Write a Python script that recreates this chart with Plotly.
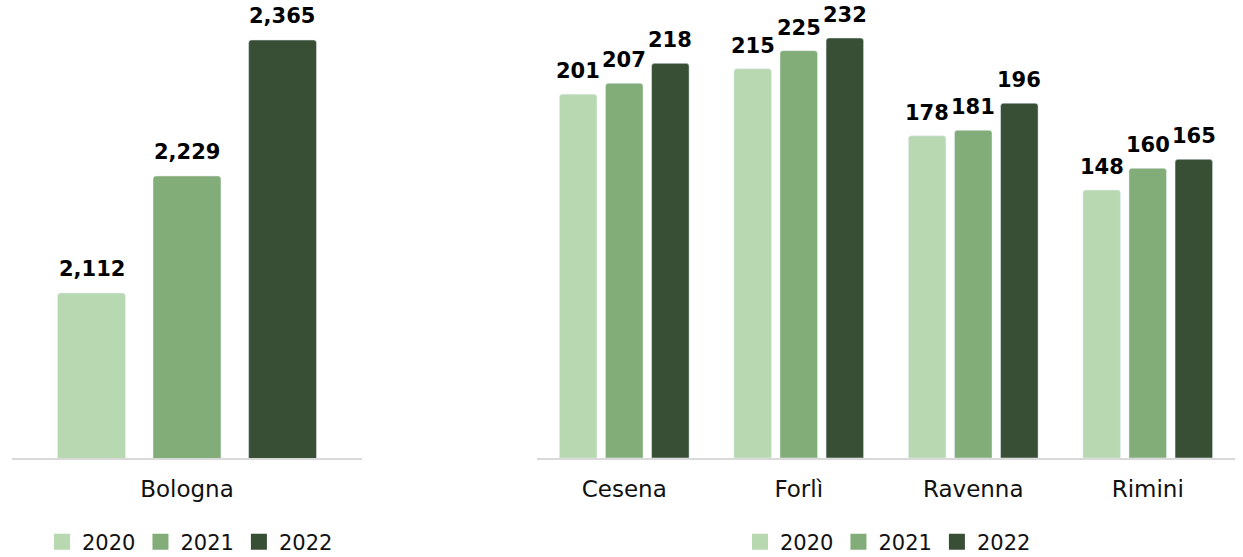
import plotly.graph_objects as go

years = ["2020", "2021", "2022"]
colors = ["#b8d8b1", "#82ac78", "#384f35"]

left_cats = ["Bologna"]
left_vals = {"2020": [2112], "2021": [2229], "2022": [2365]}

right_cats = ["Cesena", "Forlì", "Ravenna", "Rimini"]
right_vals = {"2020": [201, 215, 178, 148],
              "2021": [207, 225, 181, 160],
              "2022": [218, 232, 196, 165]}

W, H = 1243, 557
FONT = "DejaVu Sans"

fig = go.Figure()

l_width = 0.194
l_offsets = [-0.370, -0.097, 0.176]
l_shift_px = [-95, 0, 95]
r_width = 0.215
r_offsets = [-0.3715, -0.1075, 0.1565]
r_shift_px = [-46, 0, 46]

annotations = []
for i, yr in enumerate(years):
    fig.add_trace(go.Bar(
        x=left_cats, y=left_vals[yr], name=yr, marker_color=colors[i],
        width=l_width, offset=l_offsets[i], xaxis="x", yaxis="y",
        showlegend=False, hoverinfo="skip"))
    for c, v in zip(left_cats, left_vals[yr]):
        annotations.append(dict(x=c, y=v, xref="x", yref="y", text=f"{v:,}",
                                showarrow=False, yanchor="bottom", xshift=l_shift_px[i],
                                yshift=10, font=dict(family=FONT, size=21, color="#000000",
                                                     weight="bold")))
for i, yr in enumerate(years):
    fig.add_trace(go.Bar(
        x=right_cats, y=right_vals[yr], name=yr, marker_color=colors[i],
        width=r_width, offset=r_offsets[i], xaxis="x2", yaxis="y2",
        showlegend=False, hoverinfo="skip"))
    for c, v in zip(right_cats, right_vals[yr]):
        annotations.append(dict(x=c, y=v, xref="x2", yref="y2", text=f"{v:,}",
                                showarrow=False, yanchor="bottom", xshift=r_shift_px[i],
                                yshift=9, font=dict(family=FONT, size=21, color="#000000",
                                                    weight="bold")))

# legend entries (larger square swatches)
for lg, xa, ya in [("legend", "x", "y"), ("legend2", "x2", "y2")]:
    for i, yr in enumerate(years):
        fig.add_trace(go.Scatter(
            x=[None], y=[None], mode="markers", name=yr, xaxis=xa, yaxis=ya,
            marker=dict(symbol="square", size=17, color=colors[i]),
            legend=lg, showlegend=True, hoverinfo="skip"))

ybot = 1 - 458 / H
axis_common = dict(showline=True, linecolor="#d9d9d9", linewidth=2, showgrid=False,
                   zeroline=False, ticks="", ticklabelstandoff=9, automargin=False,
                   tickfont=dict(family=FONT, size=23, color="#111111"))
leg_common = dict(orientation="h", xanchor="center", y=1 - 542 / H, yanchor="middle",
                  font=dict(family=FONT, size=21, color="#111111"),
                  itemclick=False, itemdoubleclick=False)
fig.update_layout(
    width=W, height=H,
    margin=dict(l=0, r=0, t=0, b=0, autoexpand=False),
    paper_bgcolor="white", plot_bgcolor="white",
    barmode="overlay", barcornerradius=3,
    font=dict(family=FONT),
    xaxis=dict(domain=[12 / W, 362 / W], anchor="y", **axis_common),
    yaxis=dict(domain=[ybot, 1], range=[1947, 2405], visible=False, anchor="x"),
    xaxis2=dict(domain=[537 / W, 1235 / W], anchor="y2", **axis_common),
    yaxis2=dict(domain=[ybot, 1], range=[0, 253], visible=False, anchor="x2"),
    legend=dict(x=190 / W, **leg_common),
    legend2=dict(x=888 / W, **leg_common),
    annotations=annotations,
)

post = (
    "document.documentElement.style.cssText='margin:0;padding:0;overflow:hidden;';"
    "document.body.style.cssText='margin:0;padding:0;overflow:hidden;';"
)
fig.write_html("out.html", config={"displayModeBar": False}, post_script=post)
